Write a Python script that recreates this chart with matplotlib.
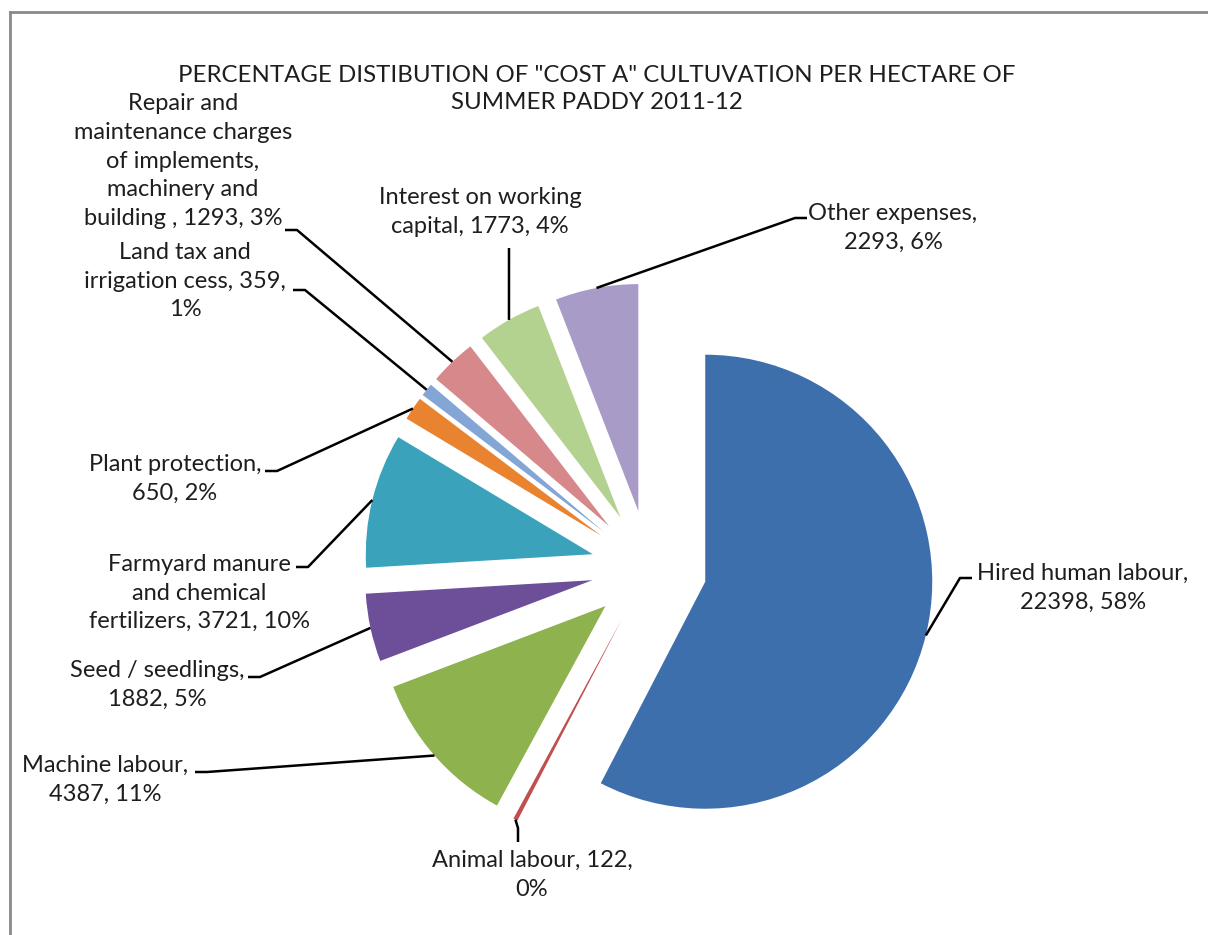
import matplotlib
matplotlib.use("Agg")
import matplotlib.pyplot as plt
from matplotlib.lines import Line2D
import numpy as np

# data (clockwise from 12 o'clock)
categories = ["Hired human labour", "Animal labour", "Machine labour", "Seed / seedlings",
              "Farmyard manure and chemical fertilizers", "Plant protection",
              "Land tax and irrigation cess",
              "Repair and maintenance charges of implements, machinery and building",
              "Interest on working capital", "Other expenses"]
values = [22398, 122, 4387, 1882, 3721, 650, 359, 1293, 1773, 2293]
percents = [58, 0, 11, 5, 10, 2, 1, 3, 4, 6]

# how each data label is wrapped in the picture
label_formats = [
    "Hired human labour,\n{v}, {p}%",
    "Animal labour, {v},\n{p}%",
    "Machine labour,\n{v}, {p}%",
    "Seed / seedlings,\n{v}, {p}%",
    "Farmyard manure\nand chemical\nfertilizers, {v}, {p}%",
    "Plant protection,\n{v}, {p}%",
    "Land tax and\nirrigation cess, {v},\n{p}%",
    "Repair and\nmaintenance charges\nof implements,\nmachinery and\nbuilding , {v}, {p}%",
    "Interest on working\ncapital, {v}, {p}%",
    "Other expenses,\n{v}, {p}%",
]

colors = ["#3D6FAC", "#C0504D", "#8DB24E", "#6C4F98", "#3AA2BB", "#E9832F",
          "#84A6D6", "#D6888B", "#B4D28F", "#A99BC8"]

title = 'PERCENTAGE DISTIBUTION OF "COST A" CULTUVATION PER HECTARE OF\nSUMMER PADDY 2011-12'

# layout in pixels
W, H = 1208, 935
CX, CY, R = 649, 568, 227
text_pos = [(1083, 588), (532, 875), (105, 780), (157, 685), (199, 593),
            (175, 479), (185, 281), (183, 161), (480, 212), (893, 228)]
# leader line: elbow point, then the short stub end next to the text
elbows = [(960, 578), (518, 828), (207, 772), (260, 677), (308, 567),
          (277, 471), (305, 290), (297, 230), (509, 260), (795, 218)]
stub_ends = [(972, 578), (518, 842), (195, 772), (248, 677), (296, 567),
             (265, 471), (293, 290), (285, 230), (509, 248), (807, 218)]


def px(x, y):
    return ((x - CX) / R, (CY - y) / R)


fig = plt.figure(figsize=(W / 100, H / 100), dpi=100)
ax = fig.add_axes([0, 0, 1, 1])

wedges, _ = ax.pie(values, colors=colors, startangle=90, counterclock=False,
                   explode=[0.255] * len(values), radius=1,
                   wedgeprops=dict(linewidth=0))
ax.set_xlim(-CX / R, (W - CX) / R)
ax.set_ylim((CY - H) / R, CY / R)
ax.axis("off")

for i, w in enumerate(wedges):
    mid = np.deg2rad((w.theta1 + w.theta2) / 2)
    ax_, ay_ = w.center[0] + w.r * np.cos(mid), w.center[1] + w.r * np.sin(mid)
    ex, ey = px(*elbows[i])
    sx, sy = px(*stub_ends[i])
    ax.plot([ax_, ex, sx], [ay_, ey, sy], color="black", lw=1.8,
            solid_capstyle="butt")
    txt = label_formats[i].format(v=values[i], p=percents[i])
    ax.text(*px(*text_pos[i]), txt, ha="center", va="center", fontsize=17,
            family="Lato", color="#1e1e1e", linespacing=1.45)

ax.text(*px(597, 89), title, ha="center", va="center", fontsize=17.3,
        family="Lato", color="#1e1e1e", linespacing=1.3)

# chart border (only top and left visible in the crop)
fig.add_artist(Line2D([10 / W, 10 / W], [0, 1 - 12 / H], color="#8a8a8a", lw=2))
fig.add_artist(Line2D([10 / W, 1], [1 - 12 / H, 1 - 12 / H], color="#8a8a8a", lw=2))

fig.savefig("out.png", dpi=100, facecolor="white")
